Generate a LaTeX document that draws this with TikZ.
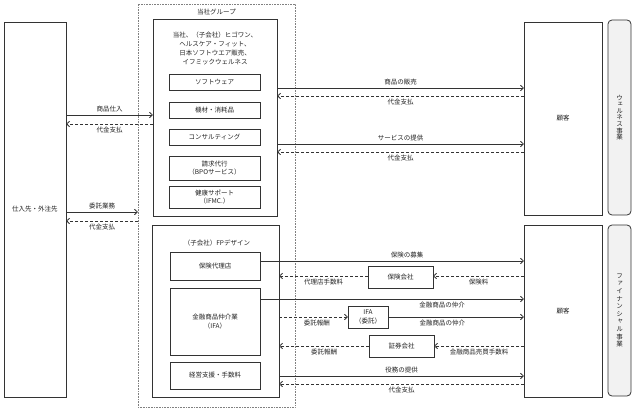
\documentclass[tikz,border=0pt]{standalone}
\usepackage{fontspec}
\setmainfont{Noto Sans CJK JP}
\newfontfamily\vjp[Vertical=Alternates]{Noto Sans CJK JP}
\usetikzlibrary{arrows.meta}
\definecolor{ln}{HTML}{333333}
\definecolor{tx}{HTML}{222222}
\definecolor{sidefill}{HTML}{F2F2F2}
\tikzset{
  box/.style={draw=ln, line width=0.8pt, inner sep=0pt, outer sep=0pt, align=center, text=tx, font=\fontsize{6.5}{8.5}\selectfont},
  grpbox/.style={draw=gray, densely dotted, line width=0.6pt, inner sep=0pt, outer sep=0pt},
  side/.style={draw=ln, fill=sidefill, line width=0.8pt, rounded corners=4pt, inner sep=0pt, outer sep=0pt},
  arr/.style={draw=ln, line width=0.8pt, -{Straight Barb[length=3pt,width=5.5pt]}},
  darr/.style={arr, dash pattern=on 3pt off 2pt},
  lbl/.style={text=tx, font=\fontsize{6.5}{7}\selectfont, inner sep=2.5pt},
  txt/.style={text=tx, font=\fontsize{6.5}{9}\selectfont, align=center, inner sep=0pt},
}
\begin{document}
\begin{tikzpicture}[x=1pt,y=-1pt]
\useasboundingbox (0,0) rectangle (635,412);
% left
\node[box, minimum width=62, minimum height=375] (sup) at (35,209.5) {仕入先・外注先};
% group
\node[grpbox, minimum width=157, minimum height=403] (grp) at (216.5,205.5) {};
\node[txt] (grpt) at (216.5,12) {当社グループ};
% wellness inner
\node[box, minimum width=124, minimum height=197] (inW) at (215,117.5) {};
\node[txt] (inWt) at (215,48.5) {当社、（子会社）ヒゴワン、\\ヘルスケア・フィット、\\日本ソフトウエア販売、\\イフミックウェルネス};
\node[box, minimum width=91, minimum height=16] (sw) at (214.5,82) {ソフトウェア};
\node[box, minimum width=91, minimum height=16] (kz) at (214.5,110) {機材・消耗品};
\node[box, minimum width=91, minimum height=16] (cs) at (214.5,137) {コンサルティング};
\node[box, minimum width=91, minimum height=24] (bpo) at (214.5,168) {請求代行\\（BPOサービス）};
\node[box, minimum width=91, minimum height=22] (ifmc) at (214.5,197) {健康サポート\\（IFMC.）};
% financial inner
\node[box, minimum width=127, minimum height=172] (inF) at (215.5,311) {};
\node[txt] (inFt) at (217,243) {（子会社）FPデザイン};
\node[box, minimum width=90, minimum height=28] (hd) at (215,266) {保険代理店};
\node[box, minimum width=90, minimum height=67] (ifab) at (215,321.5) {金融商品仲介業\\（IFA）};
\node[box, minimum width=90, minimum height=27] (kei) at (215,375.5) {経営支援・手数料};
% middle boxes
\node[box, minimum width=65, minimum height=22] (hk) at (400.5,277) {保険会社};
\node[box, minimum width=40, minimum height=22] (ifaw) at (368,317) {IFA\\（委託）};
\node[box, minimum width=65, minimum height=22] (sk) at (401.5,346) {証券会社};
% customers
\node[box, minimum width=78, minimum height=193] (custW) at (563,118.5) {顧客};
\node[box, minimum width=78, minimum height=172] (custF) at (563,311) {顧客};
% side labels
\node[side, minimum width=23, minimum height=195] (sideW) at (619.5,117.5) {};
\node[side, minimum width=23, minimum height=171] (sideF) at (619.5,310.5) {};
\node[txt, font=\vjp\fontsize{6.5}{6.6}\selectfont] (sideWt) at (sideW) {ウ\\ェ\\ル\\ネ\\ス\\事\\業};
\node[txt, font=\vjp\fontsize{6.5}{7.6}\selectfont] (sideFt) at (sideF) {フ\\ァ\\イ\\ナ\\ン\\シ\\ャ\\ル\\事\\業};
% left arrows
\draw[arr] (sup.east |- 0,115) -- node[lbl, above] {商品仕入} (inW.west |- 0,115);
\draw[darr] (inW.west |- 0,124) -- node[lbl, below] {代金支払} (sup.east |- 0,124);
\draw[arr] (sup.east |- 0,212) -- node[lbl, above] {委託業務} (grp.west |- 0,212);
\draw[darr] (grp.west |- 0,221) -- node[lbl, below] {代金支払} (sup.east |- 0,221);
% wellness right
\draw[arr] (inW.east |- 0,88) -- node[lbl, above] {商品の販売} (custW.west |- 0,88);
\draw[darr] (custW.west |- 0,96) -- node[lbl, below] {代金支払} (inW.east |- 0,96);
\draw[arr] (inW.east |- 0,144) -- node[lbl, above] {サービスの提供} (custW.west |- 0,144);
\draw[darr] (custW.west |- 0,152) -- node[lbl, below] {代金支払} (inW.east |- 0,152);
% financial
\draw[arr] (hd.east |- 0,261) -- node[lbl, above, pos=0.557] {保険の募集} (custF.west |- 0,261);
\draw[darr] (custF.west |- 0,276) -- node[lbl, below] {保険料} (hk.east |- 0,276);
\draw[darr] (hk.west |- 0,276) -- node[lbl, below] {代理店手数料} (inF.east |- 0,276);
\draw[arr] (ifab.east |- 0,299) -- node[lbl, below, pos=0.69] {金融商品の仲介} (custF.west |- 0,299);
\draw[darr] (inF.east |- 0,317) -- node[lbl, below, pos=0.55] {委託報酬} (ifaw.west);
\draw[arr] (ifaw.east) -- node[lbl, below, pos=0.4] {金融商品の仲介} (custF.west |- 0,317);
\draw[darr] (custF.west |- 0,346) -- node[lbl, below] {金融商品売買手数料} (sk.east);
\draw[darr] (sk.west) -- node[lbl, below] {委託報酬} (inF.east |- 0,346);
\draw[arr] (inF.east |- 0,376) -- node[lbl, above] {役務の提供} (custF.west |- 0,376);
\draw[darr] (custF.west |- 0,384) -- node[lbl, below] {代金支払} (inF.east |- 0,384);
\end{tikzpicture}
\end{document}
